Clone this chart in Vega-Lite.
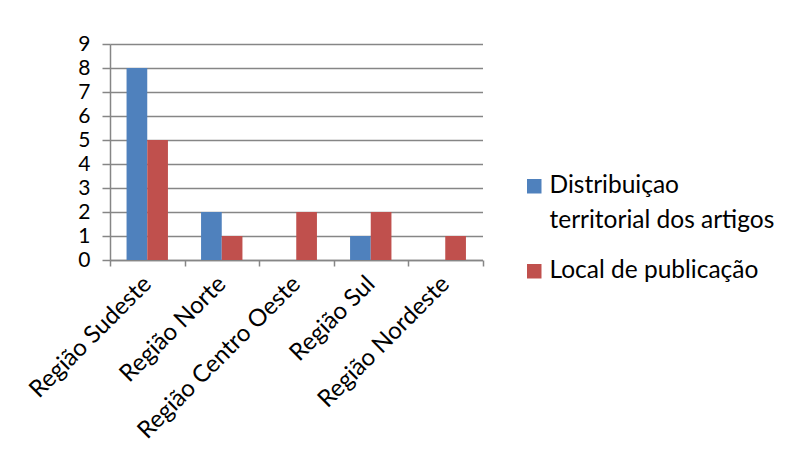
{
  "$schema": "https://vega.github.io/schema/vega-lite/v6.json",
  "autosize": {"type": "none"},
  "width": 372.5,
  "height": 216,
  "padding": {"left": 110, "top": 44, "right": 303.5, "bottom": 209},
  "background": "white",
  "data": {
    "values": [
      {"regiao": "Região Sudeste", "serie": "Distribuiçao territorial dos artigos", "valor": 8},
      {"regiao": "Região Sudeste", "serie": "Local de publicação", "valor": 5},
      {"regiao": "Região Norte", "serie": "Distribuiçao territorial dos artigos", "valor": 2},
      {"regiao": "Região Norte", "serie": "Local de publicação", "valor": 1},
      {"regiao": "Região Centro Oeste", "serie": "Distribuiçao territorial dos artigos", "valor": 0},
      {"regiao": "Região Centro Oeste", "serie": "Local de publicação", "valor": 2},
      {"regiao": "Região Sul", "serie": "Distribuiçao territorial dos artigos", "valor": 1},
      {"regiao": "Região Sul", "serie": "Local de publicação", "valor": 2},
      {"regiao": "Região Nordeste", "serie": "Distribuiçao territorial dos artigos", "valor": 0},
      {"regiao": "Região Nordeste", "serie": "Local de publicação", "valor": 1}
    ]
  },
  "mark": {"type": "bar"},
  "encoding": {
    "x": {
      "field": "regiao",
      "type": "nominal",
      "sort": null,
      "title": null,
      "scale": {"paddingInner": 0, "paddingOuter": 0},
      "axis": {
        "labelAngle": -45,
        "labelAlign": "right",
        "labelBaseline": "middle",
        "labelFont": "Lato",
        "labelFontSize": 24,
        "labelLineHeight": 24,
        "labelColor": "#000000",
        "labelPadding": 14,
        "labelLimit": 500,
        "labelOverlap": false,
        "tickBand": "extent",
        "tickSize": 6,
        "tickColor": "#868686",
        "tickWidth": 1.5,
        "domainColor": "#868686",
        "domainWidth": 1.5,
        "grid": false
      }
    },
    "xOffset": {
      "field": "serie",
      "type": "nominal",
      "scale": {"paddingInner": 0, "paddingOuter": 0.8}
    },
    "y": {
      "field": "valor",
      "type": "quantitative",
      "title": null,
      "scale": {"domain": [0, 9], "nice": false},
      "axis": {
        "values": [0, 1, 2, 3, 4, 5, 6, 7, 8, 9],
        "labelFont": "Lato",
        "labelFontSize": 21,
        "labelLineHeight": 21,
        "labelColor": "#000000",
        "labelPadding": 12,
        "tickSize": 8,
        "tickColor": "#868686",
        "tickWidth": 1.5,
        "domainColor": "#868686",
        "domainWidth": 1.5,
        "gridColor": "#868686",
        "gridWidth": 1.5,
        "gridOpacity": 1
      }
    },
    "color": {
      "field": "serie",
      "type": "nominal",
      "title": null,
      "scale": {
        "domain": ["Distribuiçao territorial dos artigos", "Local de publicação"],
        "range": ["#4F81BD", "#C0504D"]
      },
      "legend": {
        "orient": "none",
        "legendX": 412,
        "legendY": 130,
        "symbolType": "square",
        "symbolSize": 210,
        "symbolStrokeWidth": 0,
        "symbolOpacity": 1,
        "labelFont": "Lato",
        "labelFontSize": 24.5,
        "labelColor": "#000000",
        "labelLimit": 400,
        "labelOffset": 3,
        "rowPadding": 25,
        "labelExpr": "datum.label == 'Distribuiçao territorial dos artigos' ? ['Distribuiçao', 'territorial dos artigos'] : datum.label"
      }
    }
  },
  "config": {
    "view": {"stroke": null},
    "style": {"guide-label": {"lineHeight": 35}}
  }
}
